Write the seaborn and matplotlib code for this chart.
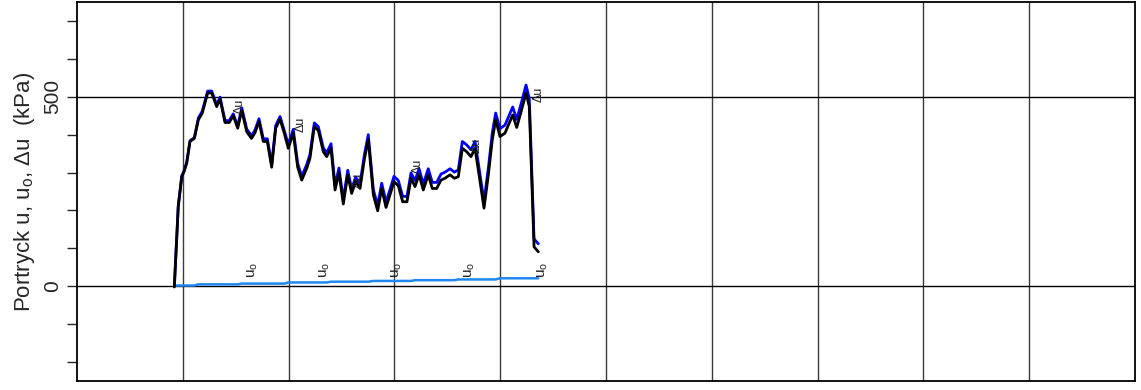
import matplotlib
matplotlib.use("Agg")
import matplotlib.pyplot as plt
import seaborn as sns
import pandas as pd

# Sounding position along the profile
depth = [0.920, 0.957, 0.990, 1.011, 1.037, 1.068, 1.109, 1.147, 1.184, 1.235,
         1.273, 1.320, 1.352, 1.399, 1.439, 1.477, 1.519, 1.557, 1.604, 1.649,
         1.682, 1.720, 1.761, 1.799, 1.840, 1.878, 1.919, 1.959, 1.997, 2.044,
         2.086, 2.124, 2.171, 2.202, 2.243, 2.281, 2.328, 2.360, 2.401, 2.439,
         2.476, 2.517, 2.559, 2.596, 2.634, 2.675, 2.715, 2.753, 2.801, 2.842,
         2.880, 2.921, 2.958, 2.996, 3.037, 3.078, 3.119, 3.157, 3.195, 3.233,
         3.273, 3.320, 3.358, 3.400, 3.440, 3.478, 3.526, 3.566, 3.604, 3.642,
         3.683, 3.724, 3.762, 3.800, 3.847, 3.888, 3.925, 3.957, 3.998, 4.045,
         4.118, 4.156, 4.203, 4.244, 4.275, 4.320, 4.360]

# Excess pore pressure Δu (kPa)
du = [-2, 210, 289, 302, 325, 382, 390, 439, 457, 510,
      510, 474, 494, 432, 432, 450, 417, 464, 408, 390,
      405, 435, 382, 382, 314, 417, 441, 404, 364, 404,
      314, 280, 311, 338, 421, 411, 355, 342, 364, 254,
      300, 217, 294, 245, 276, 258, 333, 388, 241, 199,
      258, 208, 241, 276, 265, 223, 223, 285, 263, 294,
      254, 294, 258, 258, 280, 285, 294, 285, 289, 364,
      355, 342, 364, 294, 206, 294, 386, 439, 395, 404,
      452, 419, 466, 510, 474, 104, 91]

# Static pore pressure u0 (kPa)
u0 = [2, 2, 2, 2, 2, 2, 2, 5, 5, 5,
      5, 5, 5, 5, 5, 5, 5, 7, 7, 7,
      7, 7, 7, 7, 7, 7, 7, 7, 10, 10,
      10, 10, 10, 10, 10, 10, 10, 10, 12, 12,
      12, 12, 12, 12, 12, 12, 12, 12, 14, 14,
      14, 14, 14, 14, 14, 14, 14, 14, 16, 16,
      16, 16, 16, 16, 16, 16, 16, 16, 18, 18,
      18, 18, 18, 18, 18, 18, 18, 18, 21, 21,
      21, 21, 21, 21, 21, 21, 21]

# Measured pore pressure u (kPa)
u = [0, 212, 291, 304, 327, 384, 392, 444, 462, 515,
     515, 479, 499, 437, 437, 455, 422, 471, 415, 397,
     412, 442, 389, 389, 321, 424, 448, 411, 374, 414,
     324, 290, 321, 348, 431, 421, 365, 352, 376, 266,
     312, 229, 306, 257, 288, 270, 345, 400, 255, 213,
     272, 222, 255, 290, 279, 237, 237, 299, 279, 310,
     270, 310, 274, 274, 296, 301, 310, 301, 307, 382,
     373, 360, 382, 312, 224, 312, 404, 457, 416, 425,
     473, 440, 487, 531, 495, 125, 112]

# Curve tags
du_tag_x = [1.54, 2.11, 2.65, 3.22, 3.78, 4.36]
du_tag_y = [474, 426, 280, 315, 373, 505]
u0_tag_x = [1.66, 2.34, 3.02, 3.71, 4.40]
u0_tag_y = [42, 42, 42, 42, 42]

sns.set_style("white")
plt.rcParams["font.family"] = ["Liberation Sans", "DejaVu Sans"]
plt.rcParams["mathtext.fontset"] = "custom"
plt.rcParams["mathtext.rm"] = "Liberation Sans"
plt.rcParams["mathtext.it"] = "Liberation Sans"

df = pd.DataFrame({"depth": depth, "du": du, "u0": u0, "u": u})

fig = plt.figure(figsize=(11.41, 3.90), dpi=100)
ax = fig.add_axes([77 / 1141, 9 / 390, 1058 / 1141, 379 / 390])

ax.set_xlim(0, 10)
ax.set_ylim(-250, 750)

# Grid
ax.set_xticks(range(1, 10))
ax.set_xticklabels([])
ax.tick_params(axis="x", length=0)
for gx in range(1, 10):
    ax.axvline(gx, color="#3a3a3a", lw=1.0, zorder=1)
for gy in (0, 500):
    ax.axhline(gy, color="black", lw=1.0, zorder=1)

sns.lineplot(data=df, x="depth", y="u0", ax=ax, color="#1e88f0", lw=1.8,
             sort=False, estimator=None, zorder=3)
sns.lineplot(data=df, x="depth", y="u", ax=ax, color="#0000ff", lw=2.0,
             sort=False, estimator=None, zorder=4)
sns.lineplot(data=df, x="depth", y="du", ax=ax, color="black", lw=2.0,
             sort=False, estimator=None, zorder=5)

for tx, ty in zip(du_tag_x, du_tag_y):
    ax.text(tx, ty, "Δu", rotation=90, ha="center", va="center",
            fontsize=9, color="#222222", zorder=6)
for tx, ty in zip(u0_tag_x, u0_tag_y):
    ax.text(tx, ty, "u$_\\mathrm{o}$", rotation=90, ha="center", va="center",
            fontsize=11, color="#222222", zorder=6)

# Y axis
yt = list(range(-200, 800, 100))
ax.set_yticks(yt)
ax.set_yticklabels([str(v) if v in (0, 500) else "" for v in yt],
                   rotation=90, va="center", fontsize=15)
ax.tick_params(axis="y", direction="out", length=7, width=1, pad=4, left=True)
ax.set_ylabel("Portryck u, u$_\\mathrm{o}$, Δu  (kPa)", fontsize=16, labelpad=4)
ax.set_xlabel("")

for sp in ax.spines.values():
    sp.set_color("black")
    sp.set_linewidth(1.3)

fig.savefig("out.png", dpi=100)
